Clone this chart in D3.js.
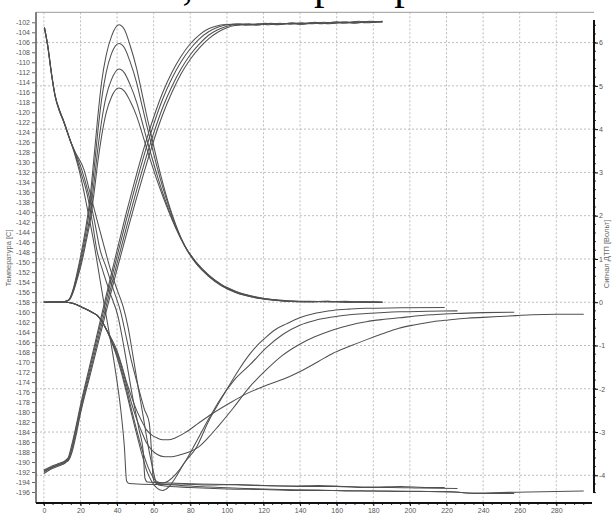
<!DOCTYPE html>
<html>
<head>
<meta charset="utf-8">
<script src="https://cdnjs.cloudflare.com/ajax/libs/d3/7.8.5/d3.min.js"></script>
<style>
body { margin: 0; background: #fff; }
text { font-family: "Liberation Sans", Arial, sans-serif; }
</style>
</head>
<body>
<div id="content"></div>
<script>
// --- data: [time, value] ---
var titleText = "Опыты, этап проверки";
var leftLabel = "Температура [C]";
var rightLabel = "Сигнал ДТП [Вольт]";

var xTicks = [0, 20, 40, 60, 80, 100, 120, 140, 160, 180, 200, 220, 240, 260, 280];
var leftTicks = d3.range(-196, -101, 2);
var rightTicks = [-4, -3, -2, -1, 0, 1, 2, 3, 4, 5, 6];

// temperature, heating runs (left axis)
var riseT1 = [[0,-191.6],[4,-190.9],[8,-190.3],[12,-189.6],[13.3,-189.1],[14.8,-187.2],[17,-183.8],[20,-178.6],[25,-170.8],[30,-163],[35,-155.2],[40,-147.6],[45,-140.2],[50,-133.3],[55,-126.8],[60,-121],[65,-116],[70,-112],[75,-108.8],[80,-106.3],[85,-104.5],[90,-103.3],[95,-102.7],[100,-102.4],[106,-102.6],[112,-102.3],[118,-102.5],[124,-102.2],[130,-102.4],[136,-102.1],[142,-102.3],[148,-102.0],[154,-102.2],[160,-101.9],[166,-102.1],[172,-101.8],[178,-102.0],[185,-101.8]];
var riseT2 = [[0,-191.8],[4,-191.1],[8,-190.5],[12,-189.8],[13.5,-189.3],[15,-187.6],[17,-184.3],[20,-179.2],[25,-171.5],[30,-163.8],[35,-156.2],[40,-148.8],[45,-141.6],[50,-134.8],[55,-128.3],[60,-122.4],[65,-117.3],[70,-113.2],[75,-109.9],[80,-107.3],[85,-105.3],[90,-103.9],[95,-103],[100,-102.5],[107,-102.3],[114,-102.5],[121,-102.2],[128,-102.4],[135,-102.2],[142,-102.4],[149,-102.1],[156,-102.3],[163,-102.0],[170,-102.2],[177,-101.9],[185,-102.0]];
var riseT3 = [[0,-192.0],[4,-191.2],[8,-190.6],[12,-189.9],[13.6,-189.4],[15.2,-187.8],[17.2,-184.6],[20,-179.8],[25,-172.3],[30,-164.8],[35,-157.4],[40,-150.2],[45,-143.2],[50,-136.5],[55,-130.1],[60,-124.2],[65,-119],[70,-114.8],[75,-111.3],[80,-108.5],[85,-106.3],[90,-104.6],[95,-103.5],[100,-102.8],[105,-102.4],[111,-102.6],[117,-102.3],[123,-102.5],[129,-102.2],[135,-102.4],[141,-102.1],[147,-102.3],[153,-102.0],[159,-102.2],[165,-101.9],[171,-102.1],[178,-101.8],[185,-101.9]];
var riseT4 = [[0,-192.3],[4,-191.4],[8,-190.8],[12,-190.1],[13.8,-189.5],[15.4,-188],[17.5,-184.8],[20,-180.3],[25,-173],[30,-165.7],[35,-158.5],[40,-151.4],[45,-144.6],[50,-138],[55,-131.7],[60,-125.7],[65,-120.4],[70,-116],[75,-112.3],[80,-109.4],[85,-107.1],[90,-105.3],[95,-104],[100,-103.1],[105,-102.6],[110,-102.4],[116,-102.6],[122,-102.3],[128,-102.5],[134,-102.2],[140,-102.4],[146,-102.1],[152,-102.3],[158,-102.0],[164,-102.2],[170,-101.9],[176,-102.1],[185,-101.8]];

// DTA signal, heating runs (right axis)
var peakS1 = [[0,0],[5,0.01],[10,0],[12,0.02],[14,0.08],[16,0.3],[18,0.65],[20.7,1.2],[23,1.75],[25.2,2.4],[27.5,3.4],[29.5,4.3],[31.6,5.1],[34,5.7],[37,6.15],[41,6.41],[44,6.3],[47,5.95],[50.7,5.4],[53,4.95],[56,4.35],[59,3.8],[62,3.25],[65,2.75],[68,2.3],[72,1.8],[77,1.3],[83,0.9],[90,0.6],[97,0.38],[105,0.22],[115,0.11],[125,0.05],[135,0.02],[145,0.01],[155,0.02],[165,0],[175,0.01],[185,0]];
var peakS2 = [[0,0],[5,0],[10,0.01],[12,0.02],[14,0.07],[16,0.28],[18,0.6],[20.7,1.1],[23,1.62],[25.2,2.22],[27.5,3.1],[29.5,3.95],[31.6,4.7],[34,5.3],[37,5.75],[41,5.98],[44,5.88],[47,5.57],[50.7,5.07],[53,4.66],[56,4.12],[59,3.6],[62,3.1],[65,2.65],[68,2.25],[72,1.77],[77,1.3],[83,0.92],[90,0.61],[97,0.39],[105,0.23],[115,0.11],[125,0.05],[135,0.02],[145,0.02],[155,0.01],[165,0.01],[175,0],[185,0]];
var peakS3 = [[0,0],[5,0.01],[10,0],[12,0.02],[14,0.06],[16,0.25],[18,0.55],[20.7,1.0],[23,1.48],[25.2,2.0],[27.5,2.8],[29.5,3.55],[31.6,4.2],[34,4.75],[37,5.15],[41,5.39],[44,5.3],[47,5.04],[50.7,4.62],[53,4.28],[56,3.8],[59,3.35],[62,2.92],[65,2.52],[68,2.17],[72,1.74],[77,1.3],[83,0.93],[90,0.62],[97,0.4],[105,0.24],[115,0.12],[125,0.06],[135,0.02],[145,0.01],[155,0.02],[165,0],[175,0.01],[185,0]];
var peakS4 = [[0,0],[5,0],[10,0.01],[12,0.02],[14,0.06],[16,0.23],[18,0.5],[20.7,0.92],[23,1.38],[25.2,1.85],[27.5,2.55],[29.5,3.25],[31.6,3.85],[34,4.37],[37,4.75],[41,4.95],[44,4.88],[47,4.66],[50.7,4.3],[53,4.0],[56,3.58],[59,3.18],[62,2.8],[65,2.45],[68,2.12],[72,1.72],[77,1.3],[83,0.94],[90,0.63],[97,0.41],[105,0.25],[115,0.13],[125,0.06],[135,0.03],[145,0.01],[155,0.01],[165,0.02],[175,0],[185,0]];

// temperature, cooling runs (left axis)
var fallT1 = [[0.3,-103],[2,-106.3],[4.3,-112.5],[6.1,-116.5],[8.8,-119.8],[10.6,-121.5],[14.3,-125.5],[17,-128.6],[19.4,-131.8],[22.5,-137],[25,-141.6],[27.5,-146.5],[30,-152],[33,-158.6],[36,-164.8],[39,-171.5],[42,-179.5],[44,-187],[45.2,-193.8],[46.5,-194.3],[60,-194.5],[75,-194.4],[90,-194.6],[105,-194.5],[120,-194.7],[135,-194.8],[150,-194.7],[165,-194.9],[180,-195],[195,-194.9],[210,-195.1],[219,-195.1]];
var fallT2 = [[0.3,-103],[2,-106.4],[4.3,-112.6],[6.1,-116.6],[8.8,-119.9],[10.6,-121.6],[14.3,-125.5],[17,-128.2],[20,-131.8],[23.7,-136.5],[26.5,-142],[28.9,-147.5],[32,-151.5],[36,-156],[40.6,-161],[44,-167.5],[48.8,-177.6],[52,-183.5],[54.3,-188],[55.2,-193.2],[56.5,-194],[70,-194.2],[85,-194.4],[100,-194.5],[115,-194.7],[130,-194.8],[145,-194.9],[160,-194.9],[175,-195.1],[190,-195.1],[205,-195.2],[226,-195.3]];
var fallT3 = [[0.3,-103.1],[2,-106.5],[4.3,-112.7],[6.1,-116.7],[8.8,-120],[10.6,-121.6],[14.3,-125.6],[17,-128],[20.7,-131.5],[24.5,-136.5],[27.5,-141.5],[30.7,-147.5],[34,-151],[38,-155.5],[42,-160],[45,-165],[48,-170],[51.6,-175],[55,-179.5],[57.5,-182],[58.3,-185],[59,-189],[59.7,-193.2],[61,-194.2],[75,-194.7],[90,-195],[110,-195.3],[130,-195.5],[150,-195.6],[170,-195.8],[190,-195.8],[210,-195.9],[225,-196],[235,-196.3],[257,-196.3]];
var fallT4 = [[0.3,-103.1],[2,-106.6],[4.3,-112.8],[6.1,-116.8],[8.8,-120.1],[10.6,-121.7],[14.3,-125.6],[17,-127.9],[21.9,-131.5],[25.2,-136.1],[29,-141.5],[33.4,-147.5],[36,-151],[40,-155.5],[43.4,-159],[46,-163],[48.8,-169],[51.5,-175],[54.3,-180.9],[56.6,-186],[58.9,-190.3],[60.5,-193],[61.6,-194.3],[64,-194.7],[80,-195.1],[100,-195.4],[120,-195.5],[140,-195.7],[160,-195.7],[180,-195.8],[200,-195.9],[220,-195.9],[232,-196.2],[250,-196.1],[265,-196.0],[280,-195.9],[295,-195.8]];

// DTA signal, cooling runs (right axis)
var dipS1 = [[0,0],[5,0],[10,0],[12.5,0],[15,-0.02],[18,-0.06],[21,-0.12],[24,-0.18],[27,-0.25],[29,-0.3],[31,-0.4],[34.3,-0.64],[37,-0.92],[39.8,-1.25],[42.5,-1.65],[45.2,-2.1],[48,-2.6],[50.7,-3.05],[53.5,-3.5],[56.1,-3.88],[59,-4.15],[62,-4.3],[65,-4.35],[68,-4.28],[72,-4.05],[77,-3.7],[83.4,-3.35],[90,-2.75],[96,-2.3],[101.6,-1.9],[107,-1.53],[112.5,-1.2],[117,-0.98],[121.6,-0.8],[127,-0.62],[132.5,-0.5],[139.8,-0.36],[148.9,-0.25],[157.9,-0.19],[167,-0.16],[176,-0.14],[195,-0.13],[219,-0.12]];
var dipS2 = [[0,0],[5,0],[10,0],[12.5,0],[15,-0.02],[18,-0.06],[21,-0.12],[24,-0.18],[27,-0.25],[29,-0.3],[31,-0.4],[34.3,-0.64],[37,-0.9],[39.8,-1.2],[42.5,-1.58],[45.2,-2.02],[48,-2.5],[50.7,-2.95],[53.5,-3.38],[56.1,-3.72],[59,-4.0],[62,-4.15],[65,-4.18],[68,-4.13],[72,-3.98],[77,-3.7],[83,-3.25],[90,-2.7],[97,-2.2],[104,-1.8],[112.5,-1.45],[121.6,-1.05],[130.7,-0.74],[139.8,-0.53],[148,-0.42],[157.9,-0.34],[167,-0.29],[176.2,-0.26],[194.3,-0.22],[210,-0.21],[226,-0.2]];
var dipS3 = [[0,0],[5,0],[10,0],[12.5,0],[15,-0.02],[18,-0.06],[21,-0.12],[24,-0.18],[27,-0.25],[29,-0.3],[31,-0.4],[34.3,-0.64],[37,-0.88],[39.8,-1.15],[42.5,-1.5],[45.2,-1.92],[48,-2.35],[50.7,-2.7],[53.5,-3.0],[56.1,-3.25],[59,-3.42],[62,-3.52],[66,-3.57],[70,-3.57],[75,-3.52],[80,-3.45],[85,-3.33],[90,-3.12],[95,-2.88],[103.4,-2.45],[112,-1.98],[121.6,-1.56],[130,-1.24],[139.8,-0.97],[148,-0.8],[157.9,-0.64],[167,-0.53],[176.2,-0.45],[185,-0.4],[194.3,-0.36],[203,-0.32],[212.5,-0.29],[225,-0.26],[240,-0.24],[257,-0.23]];
var dipS4 = [[0,0],[5,0],[10,0],[12.5,0],[15,-0.02],[18,-0.06],[21,-0.12],[24,-0.18],[27,-0.25],[29,-0.3],[31,-0.4],[34.3,-0.64],[37,-0.85],[39.8,-1.1],[42.5,-1.45],[45.2,-1.85],[48,-2.2],[50.7,-2.5],[53.5,-2.75],[56.1,-2.95],[59,-3.07],[62,-3.14],[65,-3.18],[68,-3.18],[72,-3.13],[77,-3.02],[85,-2.78],[93,-2.55],[101.6,-2.33],[110,-2.13],[121.6,-1.92],[134,-1.72],[140,-1.6],[150,-1.37],[158,-1.18],[167,-1.02],[176,-0.87],[185,-0.73],[194,-0.6],[203,-0.52],[212.5,-0.45],[221,-0.41],[231,-0.37],[240,-0.35],[249,-0.33],[258,-0.31],[267,-0.29],[280,-0.28],[295,-0.28]];

var leftSeries = [riseT1, riseT2, riseT3, riseT4, fallT1, fallT2, fallT3, fallT4];
var rightSeries = [peakS1, peakS2, peakS3, peakS4, dipS1, dipS2, dipS3, dipS4];

// --- chart ---
var W = 614, H = 514;
var svg = d3.select('#content').append('svg')
    .attr('width', W).attr('height', H)
    .style('display', 'block');

var x = d3.scaleLinear().domain([-4.3, 300.6]).range([36, 594]);
var yL = d3.scaleLinear().domain([-198.2, -100]).range([503, 12.3]);
var yR = d3.scaleLinear().domain([-4.64, 6.70]).range([503, 12.3]);

// title (only the descenders of its letters reach into the picture)
svg.append('text')
    .attr('x', 55)
    .attr('y', -1)
    .attr('font-size', 42)
    .attr('fill', '#000')
    .style('font-family', '"Liberation Serif", "Times New Roman", serif')
    .text(titleText);

// grid
svg.append('g')
    .selectAll('line')
    .data(xTicks)
    .enter()
    .append('line')
    .attr('x1', function(d){ return x(d); })
    .attr('x2', function(d){ return x(d); })
    .attr('y1', yL.range()[1])
    .attr('y2', yL.range()[0])
    .attr('stroke', '#bdbdbd')
    .attr('stroke-dasharray', '2,2');
svg.append('g')
    .selectAll('line')
    .data(rightTicks)
    .enter()
    .append('line')
    .attr('x1', x.range()[0])
    .attr('x2', x.range()[1])
    .attr('y1', function(d){ return yR(d); })
    .attr('y2', function(d){ return yR(d); })
    .attr('stroke', '#bdbdbd')
    .attr('stroke-dasharray', '2,2');

// frame
svg.append('line')
    .attr('x1', 36).attr('x2', 594).attr('y1', 12.3).attr('y2', 12.3)
    .attr('stroke', '#9a9a9a');
svg.append('line')
    .attr('x1', 36).attr('x2', 36).attr('y1', 12.3).attr('y2', 503)
    .attr('stroke', '#555').attr('stroke-width', 1.5);

// curves
var lineL = d3.line()
    .x(function(d){ return x(d[0]); })
    .y(function(d){ return yL(d[1]); })
    .curve(d3.curveMonotoneX);
var lineR = d3.line()
    .x(function(d){ return x(d[0]); })
    .y(function(d){ return yR(d[1]); })
    .curve(d3.curveMonotoneX);

var curves = svg.append('g')
    .attr('fill', 'none')
    .attr('stroke', '#505050')
    .attr('stroke-width', 1.05);
curves.selectAll('path.l')
    .data(leftSeries)
    .enter()
    .append('path')
    .attr('class', 'l')
    .attr('d', lineL);
curves.selectAll('path.r')
    .data(rightSeries)
    .enter()
    .append('path')
    .attr('class', 'r')
    .attr('d', lineR);

// left axis
var axL = svg.append('g')
    .attr('transform', 'translate(35,0)')
    .call(d3.axisLeft(yL).tickValues(leftTicks).tickSize(3).tickPadding(2)
          .tickFormat(function(d){ return String(d); }));
axL.select('.domain').remove();
axL.selectAll('line').attr('stroke', '#666');
axL.selectAll('text').attr('font-size', 7).attr('fill', '#555')
    .style('font-family', '"Liberation Sans", Arial, sans-serif');

// right axis
var axR = svg.append('g')
    .attr('transform', 'translate(594,0)')
    .call(d3.axisRight(yR).tickValues(rightTicks).tickSize(4).tickPadding(1)
          .tickFormat(function(d){ return String(d); }));
axR.select('.domain').remove();
axR.selectAll('text').attr('font-size', 7).attr('fill', '#555')
    .style('font-family', '"Liberation Sans", Arial, sans-serif');
axR.append('g')
    .selectAll('line')
    .data(d3.range(-44, 66, 2).map(function(v){ return v / 10; }))
    .enter()
    .append('line')
    .attr('x1', 0).attr('x2', 2)
    .attr('y1', function(d){ return yR(d); })
    .attr('y2', function(d){ return yR(d); })
    .attr('stroke', '#333');
axR.append('line')
    .attr('x1', 0).attr('x2', 0)
    .attr('y1', yR(6.52)).attr('y2', yR(-4.41))
    .attr('stroke', '#111').attr('stroke-width', 2);

// bottom axis
var axB = svg.append('g')
    .attr('transform', 'translate(0,503)')
    .call(d3.axisBottom(x).tickValues(xTicks).tickSize(3).tickPadding(2));
axB.select('.domain').remove();
axB.selectAll('text').attr('font-size', 7).attr('fill', '#555')
    .style('font-family', '"Liberation Sans", Arial, sans-serif');
axB.append('g')
    .selectAll('line')
    .data(d3.range(0, 300, 5))
    .enter()
    .append('line')
    .attr('x1', function(d){ return x(d); })
    .attr('x2', function(d){ return x(d); })
    .attr('y1', 0).attr('y2', 2)
    .attr('stroke', '#333');
axB.append('line')
    .attr('x1', 36).attr('x2', 592)
    .attr('y1', 0).attr('y2', 0)
    .attr('stroke', '#111').attr('stroke-width', 2);

// axis titles
svg.append('text')
    .attr('transform', 'translate(11,258) rotate(-90)')
    .attr('text-anchor', 'middle')
    .attr('font-size', 7.5)
    .attr('fill', '#666')
    .text(leftLabel);
svg.append('text')
    .attr('transform', 'translate(609,254) rotate(-90)')
    .attr('text-anchor', 'middle')
    .attr('font-size', 7.5)
    .attr('fill', '#666')
    .text(rightLabel);
</script>
</body>
</html>
